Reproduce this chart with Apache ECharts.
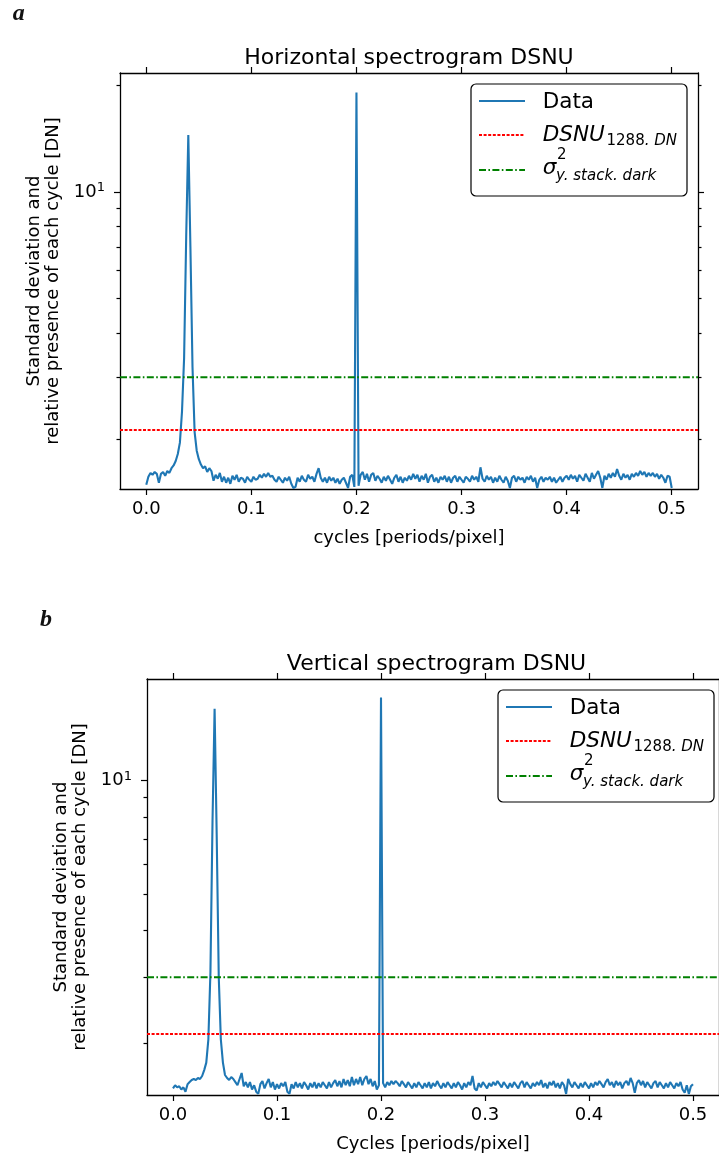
<!DOCTYPE html>
<html><head><meta charset="utf-8">
<script src="https://cdn.jsdelivr.net/npm/echarts@6/dist/echarts.min.js"></script>
<style>html,body{margin:0;padding:0;background:#fff}#c{width:719px;height:1154px}</style>
</head><body><div id="c"></div>
<script>
// ---------------- data ----------------
const FREQ_STEP = 0.002;               // frequency bin width [periods/pixel]
const xTicks = [0, 0.1, 0.2, 0.3, 0.4, 0.5];
const yMajorTicks = [10];
const yMinorTicks = [2, 3, 4, 5, 6, 7, 8, 9, 20];
const titles = ['Horizontal spectrogram DSNU', 'Vertical spectrogram DSNU'];
const xNames = ['cycles [periods/pixel]', 'Cycles [periods/pixel]'];
const yName = 'Standard deviation and\nrelative presence of each cycle [DN]';
const panelLetters = ['a', 'b'];
const legendNames = ['Data', 'DSNU', 'sigma'];
const yLimits = [[1.45, 21.7], [1.46, 18.6]];
const dsnuLevel = [2.13, 2.12];
const sigmaLevel = [3.0, 3.0];

// horizontal spectrogram (panel a), one value per bin from 0.000 to 0.500
const horizontalSpectrum = [
  1.49, 1.57, 1.61, 1.59, 1.62, 1.60, 1.51, 1.60, 1.62, 1.58,
  1.63, 1.61, 1.66, 1.69, 1.74, 1.82, 1.96, 2.40, 3.40, 7.50,
  14.5, 7.00, 3.20, 2.10, 1.86, 1.76, 1.70, 1.66, 1.68, 1.62,
  1.66, 1.63, 1.53, 1.59, 1.55, 1.61, 1.52, 1.57, 1.51, 1.56,
  1.50, 1.58, 1.54, 1.59, 1.52, 1.56, 1.55, 1.51, 1.57, 1.54,
  1.52, 1.57, 1.54, 1.55, 1.59, 1.56, 1.60, 1.57, 1.61, 1.57,
  1.58, 1.54, 1.52, 1.57, 1.54, 1.51, 1.56, 1.53, 1.57, 1.50,
  1.46, 1.47, 1.56, 1.52, 1.58, 1.54, 1.52, 1.59, 1.55, 1.57,
  1.52, 1.60, 1.66, 1.56, 1.52, 1.56, 1.51, 1.57, 1.53, 1.56,
  1.51, 1.55, 1.50, 1.54, 1.56, 1.51, 1.46, 1.57, 1.59, 1.47,
  19.1,
  1.48, 1.59, 1.62, 1.54, 1.60, 1.52, 1.59, 1.61, 1.53, 1.58,
  1.55, 1.51, 1.57, 1.53, 1.58, 1.54, 1.50, 1.56, 1.59, 1.52,
  1.57, 1.51, 1.56, 1.53, 1.58, 1.54, 1.60, 1.55, 1.59, 1.52,
  1.58, 1.54, 1.60, 1.51, 1.57, 1.59, 1.52, 1.56, 1.51, 1.57,
  1.54, 1.58, 1.52, 1.57, 1.51, 1.56, 1.58, 1.52, 1.57, 1.54,
  1.51, 1.57, 1.55, 1.52, 1.58, 1.54, 1.57, 1.52, 1.67, 1.55,
  1.52, 1.58, 1.54, 1.57, 1.51, 1.56, 1.52, 1.58, 1.54, 1.51,
  1.57, 1.53, 1.46, 1.56, 1.58, 1.52, 1.57, 1.54, 1.56, 1.51,
  1.57, 1.54, 1.58, 1.52, 1.56, 1.46, 1.54, 1.57, 1.52, 1.56,
  1.54, 1.57, 1.52, 1.56, 1.51, 1.54, 1.57, 1.52, 1.56, 1.58,
  1.54, 1.59, 1.55, 1.58, 1.52, 1.59, 1.56, 1.53, 1.60, 1.56,
  1.52, 1.61, 1.55, 1.59, 1.63, 1.56, 1.46, 1.58, 1.54, 1.60,
  1.56, 1.61, 1.57, 1.65, 1.58, 1.54, 1.60, 1.56, 1.59, 1.54,
  1.60, 1.57, 1.61, 1.58, 1.63, 1.59, 1.62, 1.57, 1.61, 1.58,
  1.61, 1.57, 1.60, 1.55, 1.59, 1.56, 1.51, 1.58, 1.57, 1.46
];

// vertical spectrogram (panel b)
const verticalSpectrum = [
  1.52, 1.55, 1.53, 1.54, 1.51, 1.53, 1.49, 1.56, 1.58, 1.60,
  1.61, 1.60, 1.62, 1.61, 1.64, 1.70, 1.78, 2.05, 3.10, 7.80,
  15.5, 7.20, 3.00, 2.05, 1.78, 1.65, 1.62, 1.60, 1.63, 1.61,
  1.58, 1.55, 1.61, 1.67, 1.54, 1.58, 1.53, 1.58, 1.51, 1.55,
  1.49, 1.47, 1.56, 1.59, 1.52, 1.57, 1.61, 1.53, 1.58, 1.51,
  1.56, 1.52, 1.57, 1.54, 1.58, 1.49, 1.47, 1.56, 1.52, 1.58,
  1.53, 1.57, 1.52, 1.58, 1.55, 1.51, 1.57, 1.53, 1.58, 1.52,
  1.57, 1.53, 1.58, 1.55, 1.52, 1.58, 1.53, 1.57, 1.60, 1.54,
  1.59, 1.53, 1.61, 1.55, 1.60, 1.54, 1.63, 1.55, 1.61, 1.56,
  1.63, 1.55, 1.61, 1.64, 1.56, 1.61, 1.54, 1.59, 1.51, 1.55,
  16.6,
  1.57, 1.53, 1.58, 1.55, 1.59, 1.56, 1.59, 1.57, 1.54, 1.59,
  1.56, 1.53, 1.58, 1.55, 1.52, 1.57, 1.53, 1.58, 1.55, 1.52,
  1.57, 1.53, 1.58, 1.52, 1.57, 1.54, 1.59, 1.55, 1.52, 1.57,
  1.53, 1.58, 1.55, 1.52, 1.57, 1.53, 1.58, 1.55, 1.51, 1.57,
  1.53, 1.58, 1.55, 1.64, 1.52, 1.50, 1.57, 1.53, 1.58, 1.55,
  1.52, 1.57, 1.54, 1.58, 1.55, 1.59, 1.56, 1.53, 1.58, 1.55,
  1.52, 1.57, 1.53, 1.58, 1.55, 1.52, 1.57, 1.59, 1.53, 1.58,
  1.55, 1.52, 1.57, 1.54, 1.58, 1.55, 1.60, 1.53, 1.57, 1.52,
  1.58, 1.55, 1.59, 1.53, 1.57, 1.52, 1.58, 1.55, 1.47, 1.61,
  1.56, 1.53, 1.58, 1.55, 1.52, 1.57, 1.53, 1.58, 1.55, 1.52,
  1.57, 1.53, 1.58, 1.55, 1.59, 1.56, 1.53, 1.58, 1.61, 1.55,
  1.58, 1.53, 1.59, 1.55, 1.58, 1.52, 1.57, 1.59, 1.55, 1.62,
  1.57, 1.48, 1.57, 1.60, 1.55, 1.59, 1.53, 1.58, 1.55, 1.52,
  1.57, 1.59, 1.53, 1.58, 1.55, 1.52, 1.57, 1.53, 1.58, 1.55,
  1.52, 1.57, 1.54, 1.58, 1.51, 1.48, 1.55, 1.47, 1.54, 1.56
];
const spectra = [horizontalSpectrum, verticalSpectrum];

// ---------------- layout / style ----------------
const FONT = 'DejaVu Sans';
const BLUE = '#1f77b4', RED = '#ff0000', GREEN = '#008000';
const X_MIN = -0.025, X_MAX = 0.525;
const panels = [
  { left: 120, top: 73, width: 578, height: 416 },
  { left: 147, top: 679, width: 579, height: 416 }
];
const redDash = [3, 1.6];
const greenDash = [7, 2.4, 1.6, 2.4];

const grid = [], xAxis = [], yAxis = [], series = [], title = [], graphic = [];
const axisLine = { show: true, onZero: false, lineStyle: { color: '#000', width: 1.3 } };
const tickStyle = { color: '#000', width: 1.2 };

panels.forEach((p, k) => {
  grid.push({ left: p.left, top: p.top, width: p.width, height: p.height, containLabel: false });
  // bottom x axis
  xAxis.push({
    type: 'value', gridIndex: k, position: 'bottom', min: X_MIN, max: X_MAX,
    axisLine, splitLine: { show: false },
    axisTick: { show: true, customValues: xTicks, length: 6, lineStyle: tickStyle },
    axisLabel: { show: true, customValues: xTicks, margin: 11, fontSize: 18, fontFamily: FONT, color: '#000',
                 formatter: v => v.toFixed(1) },
    name: xNames[k], nameLocation: 'middle', nameGap: 40,
    nameTextStyle: { fontSize: 18, fontFamily: FONT, color: '#000' }
  });
  // top x axis (spine + ticks)
  xAxis.push({
    type: 'value', gridIndex: k, position: 'top', min: X_MIN, max: X_MAX,
    axisLine, splitLine: { show: false },
    axisTick: { show: true, customValues: xTicks, length: 6, lineStyle: tickStyle },
    axisLabel: { show: false }
  });
  const yb = (pos) => ({
    type: 'log', logBase: 10, gridIndex: k, position: pos, min: yLimits[k][0], max: yLimits[k][1],
    splitLine: { show: false }, axisLine: { show: false, onZero: false },
    axisTick: { show: false }, axisLabel: { show: false }
  });
  // left major
  yAxis.push(Object.assign(yb('left'), {
    axisLine,
    axisTick: { show: true, customValues: yMajorTicks, length: 6, lineStyle: tickStyle },
    axisLabel: {
      show: true, customValues: yMajorTicks, margin: 15, fontSize: 18, fontFamily: FONT, color: '#000',
      formatter: v => '{m|10}{s|' + Math.round(Math.log10(v)) + '}',
      rich: { m: { fontSize: 18, fontFamily: FONT, color: '#000' },
              s: { fontSize: 13, fontFamily: FONT, color: '#000', padding: [0, 0, 8, 0] } }
    },
    name: yName, nameLocation: 'middle', nameGap: 57, nameRotate: 90,
    nameTextStyle: { fontSize: 18, fontFamily: FONT, color: '#000', lineHeight: 19, align: 'center' }
  }));
  // left minor
  yAxis.push(Object.assign(yb('left'), {
    axisTick: { show: true, customValues: yMinorTicks, length: 3.5, lineStyle: tickStyle }
  }));
  // right major (spine)
  yAxis.push(Object.assign(yb('right'), {
    axisLine,
    axisTick: { show: true, customValues: yMajorTicks, length: 6, lineStyle: tickStyle }
  }));
  // right minor
  yAxis.push(Object.assign(yb('right'), {
    axisTick: { show: true, customValues: yMinorTicks, length: 3.5, lineStyle: tickStyle }
  }));

  const xi = 2 * k, yi = 4 * k;
  const data = spectra[k].map((v, i) => [+(i * FREQ_STEP).toFixed(3), v]);
  series.push({
    name: legendNames[0], type: 'line', xAxisIndex: xi, yAxisIndex: yi, data,
    showSymbol: false, symbol: 'none', lineStyle: { color: BLUE, width: 2.1 }, clip: true, z: 2
  });
  series.push({
    name: legendNames[1], type: 'line', xAxisIndex: xi, yAxisIndex: yi,
    data: [[X_MIN, dsnuLevel[k]], [X_MAX, dsnuLevel[k]]],
    symbol: 'none', lineStyle: { color: RED, width: 2, type: redDash }, z: 3
  });
  series.push({
    name: legendNames[2], type: 'line', xAxisIndex: xi, yAxisIndex: yi,
    data: [[X_MIN, sigmaLevel[k]], [X_MAX, sigmaLevel[k]]],
    symbol: 'none', lineStyle: { color: GREEN, width: 2, type: greenDash }, z: 3
  });

  title.push({
    text: titles[k], left: p.left + p.width / 2, top: p.top - 15, padding: 0,
    textAlign: 'center', textVerticalAlign: 'middle',
    textStyle: { fontSize: 22, fontWeight: 'normal', fontFamily: FONT, color: '#000' }
  });

  // legend box (drawn relative to the panel origin)
  const ox = p.left, oy = p.top;
  const txt = (x, y, text, extra) => ({
    type: 'text', x: ox + x, y: oy + y, z: 101,
    style: Object.assign({ text, fontFamily: FONT, fontSize: 21.5, fill: '#000', align: 'left', verticalAlign: 'middle' }, extra || {})
  });
  const ln = (y, stroke, dash) => ({
    type: 'line', z: 101,
    shape: { x1: ox + 359, y1: oy + y, x2: ox + 405, y2: oy + y },
    style: { stroke, lineWidth: dash ? 2 : 2.1, lineDash: dash || null }
  });
  graphic.push(
    { type: 'rect', z: 100, shape: { x: ox + 351, y: oy + 11, width: 216, height: 112, r: 5 },
      style: { fill: '#fff', stroke: '#000', lineWidth: 1.2 } },
    ln(28, BLUE), ln(62, RED, redDash), ln(97, GREEN, greenDash),
    txt(422.7, 29.7, 'Data'),
    txt(422.7, 62, 'DSNU', { fontStyle: 'italic' }),
    txt(486.5, 68.6, '{n|1288}{i|. DN}', { fontSize: 15,
      rich: { n: { fontSize: 15, fontFamily: FONT, fill: '#000' },
              i: { fontSize: 15, fontFamily: FONT, fontStyle: 'italic', fill: '#000' } } }),
    txt(422.7, 95.7, 'σ', { fontStyle: 'italic' }),
    txt(437, 82.5, '2', { fontSize: 15 }),
    txt(436, 103.5, 'y. stack. dark', { fontSize: 15, fontStyle: 'italic' })
  );
});

graphic.push(
  { type: 'text', x: 12.7, y: 13.6, z: 101,
    style: { text: panelLetters[0], fontFamily: 'Liberation Serif', fontWeight: 'bold', fontStyle: 'italic',
             fontSize: 24, fill: '#111', align: 'left', verticalAlign: 'middle' } },
  { type: 'text', x: 40, y: 619.9, z: 101,
    style: { text: panelLetters[1], fontFamily: 'Liberation Serif', fontWeight: 'bold', fontStyle: 'italic',
             fontSize: 24, fill: '#111', align: 'left', verticalAlign: 'middle' } }
);

const chart = echarts.init(document.getElementById('c'), null, { renderer: 'canvas' });
chart.setOption({
  animation: false,
  backgroundColor: '#fff',
  textStyle: { fontFamily: FONT },
  title, grid, xAxis, yAxis, series, graphic
});
</script>
</body></html>
